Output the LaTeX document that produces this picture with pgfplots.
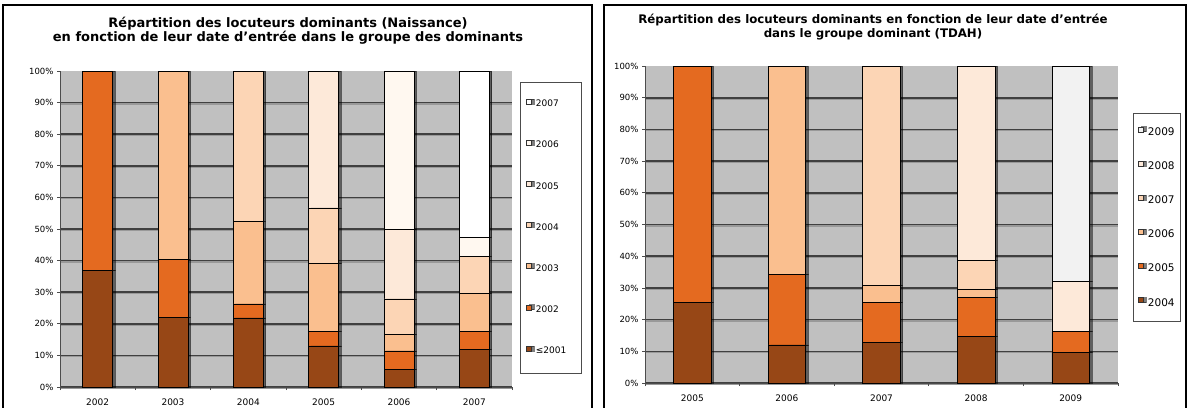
\documentclass[border=0pt]{standalone}
\usepackage{pgfplots}
\pgfplotsset{compat=1.18}
\usepackage{fontspec}
\setmainfont{DejaVu Sans}
\usetikzlibrary{shadows}
\definecolor{cbrown}{RGB}{151,71,22}
\definecolor{corange}{RGB}{228,106,32}
\definecolor{cpeach}{RGB}{250,191,143}
\definecolor{clight}{RGB}{252,213,181}
\definecolor{cvlight}{RGB}{253,233,217}
\definecolor{ccream}{RGB}{255,248,240}
\definecolor{cgray}{RGB}{242,242,242}
\definecolor{cbg}{RGB}{192,192,192}
\newcommand\legtxt[1]{\kern3pt #1}
\pgfplotsset{
  seg/.style={fill=#1, draw=black, line width=0.6pt,
    drop shadow={shadow xshift=2.4pt, shadow yshift=0pt, fill=black, opacity=0.5},
    legend image code/.code={%
      \draw[fill=#1, draw=black!80, line width=0.5pt] (0pt,0.3pt) rectangle (5pt,5.3pt);}},
  common/.style={
    scale only axis,
    ybar stacked,
    ymin=0, ymax=100,
    axis background/.style={fill=cbg},
    axis x line*=bottom, axis y line*=left,
    axis line style={black!70, line width=0.6pt},
    ytick={0,10,...,90}, extra y ticks={100}, extra y tick style={grid=none},
    yticklabel={\pgfmathprintnumber{\tick}\%},
    ymajorgrids,
    major grid style={draw=black!75, line width=1.6pt,
      preaction={draw=black!40, line width=1.4pt, transform canvas={yshift=-1.3pt}}},
    tick align=outside,
    major tick length=3pt, minor tick length=3pt,
    tick style={black!70, line width=0.7pt},
    major x tick style={draw=none},
    /pgf/number format/assume math mode=true,
    yticklabel style={font=\fontsize{8.5}{10}\selectfont},
    xticklabel style={font=\fontsize{9}{10}\selectfont, yshift=-5pt},
    legend cell align=left,
    reverse legend,
  }
}
\begin{document}
\begin{tikzpicture}
\path[use as bounding box, fill=white] (0,0) rectangle (1190pt,-407pt);
% frames
\draw[line width=2pt, black] (3pt,-410pt) -- (3pt,-5pt) -- (592pt,-5pt) -- (592pt,-410pt);
\draw[line width=2pt, black] (604pt,-410pt) -- (604pt,-5pt) -- (1186pt,-5pt) -- (1186pt,-410pt);
% titles
\node[anchor=base, font=\bfseries\fontsize{13}{15}\selectfont, inner sep=0pt] at (288pt,-27pt) {Répartition des locuteurs dominants (Naissance)};
\node[anchor=base, font=\bfseries\fontsize{13}{15}\selectfont, inner sep=0pt] at (288pt,-41pt) {en fonction de leur date d'entrée dans le groupe des dominants};
\node[anchor=base, font=\bfseries\fontsize{11.8}{14}\selectfont, inner sep=0pt] at (873pt,-23pt) {Répartition des locuteurs dominants en fonction de leur date d'entrée};
\node[anchor=base, font=\bfseries\fontsize{11.8}{14}\selectfont, inner sep=0pt] at (873pt,-37pt) {dans le groupe dominant (TDAH)};

\begin{axis}[common,
  at={(60pt,-387pt)}, anchor=south west,
  width=452pt, height=316pt,
  bar width=30pt,
  xmin=-0.5, xmax=5.5,
  xtick={0,...,5},
  xticklabels={2002,2003,2004,2005,2006,2007},
  minor xtick={-0.5,0.5,...,5.5},
  legend style={at={(1,1)}, anchor=north west, xshift=8pt, yshift=-11pt,
    draw=black!70, line width=0.8pt, fill=white,
    font=\fontsize{9}{10}\selectfont,
    inner xsep=6pt, inner ysep=14.7pt, row sep=27pt,
    nodes={inner xsep=1pt, inner ysep=3pt}},
]
\addplot[seg=cbrown] coordinates {(0,37.0) (1,22.1) (2,21.9) (3,13.0) (4,5.6) (5,11.8)};
\addlegendentry{\legtxt{≤2001}}
\addplot[seg=corange] coordinates {(0,63.0) (1,18.4) (2,4.4) (3,4.6) (4,5.8) (5,5.8)};
\addlegendentry{\legtxt{2002}}
\addplot[seg=cpeach] coordinates {(0,0) (1,59.5) (2,26.1) (3,21.6) (4,5.3) (5,12.0)};
\addlegendentry{\legtxt{2003}}
\addplot[seg=clight] coordinates {(0,0) (1,0) (2,47.6) (3,17.5) (4,11.2) (5,11.7)};
\addlegendentry{\legtxt{2004}}
\addplot[seg=cvlight] coordinates {(0,0) (1,0) (2,0) (3,43.3) (4,22.0) (5,0)};
\addlegendentry{\legtxt{2005}}
\addplot[seg=ccream] coordinates {(0,0) (1,0) (2,0) (3,0) (4,50.1) (5,6.1)};
\addlegendentry{\legtxt{2006}}
\addplot[seg=white] coordinates {(0,0) (1,0) (2,0) (3,0) (4,0) (5,52.6)};
\addlegendentry{\legtxt{\makebox[38pt][l]{2007}}}
\end{axis}

\begin{axis}[common,
  at={(645pt,-383pt)}, anchor=south west,
  width=473pt, height=317pt,
  bar width=37.5pt,
  xmin=-0.5, xmax=4.5,
  xtick={0,...,4},
  xticklabels={2005,2006,2007,2008,2009},
  minor xtick={-0.5,0.5,...,4.5},
  legend style={at={(1,1)}, anchor=north west, xshift=15pt, yshift=-47pt,
    draw=black!70, line width=0.8pt, fill=white,
    font=\fontsize{10.5}{12}\selectfont,
    inner xsep=5pt, inner ysep=11pt, row sep=18.9pt,
    nodes={inner xsep=1pt, inner ysep=3pt}},
]
\addplot[seg=cbrown] coordinates {(0,25.5) (1,12.0) (2,12.7) (3,14.7) (4,9.7)};
\addlegendentry{\legtxt{2004}}
\addplot[seg=corange] coordinates {(0,74.5) (1,22.2) (2,12.8) (3,12.2) (4,6.5)};
\addlegendentry{\legtxt{2005}}
\addplot[seg=cpeach] coordinates {(0,0) (1,65.8) (2,5.3) (3,2.6) (4,0)};
\addlegendentry{\legtxt{2006}}
\addplot[seg=clight] coordinates {(0,0) (1,0) (2,69.2) (3,9.2) (4,0)};
\addlegendentry{\legtxt{2007}}
\addplot[seg=cvlight] coordinates {(0,0) (1,0) (2,0) (3,61.3) (4,15.9)};
\addlegendentry{\legtxt{2008}}
\addplot[seg=cgray] coordinates {(0,0) (1,0) (2,0) (3,0) (4,67.9)};
\addlegendentry{\legtxt{2009}}
\end{axis}
\end{tikzpicture}
\end{document}
